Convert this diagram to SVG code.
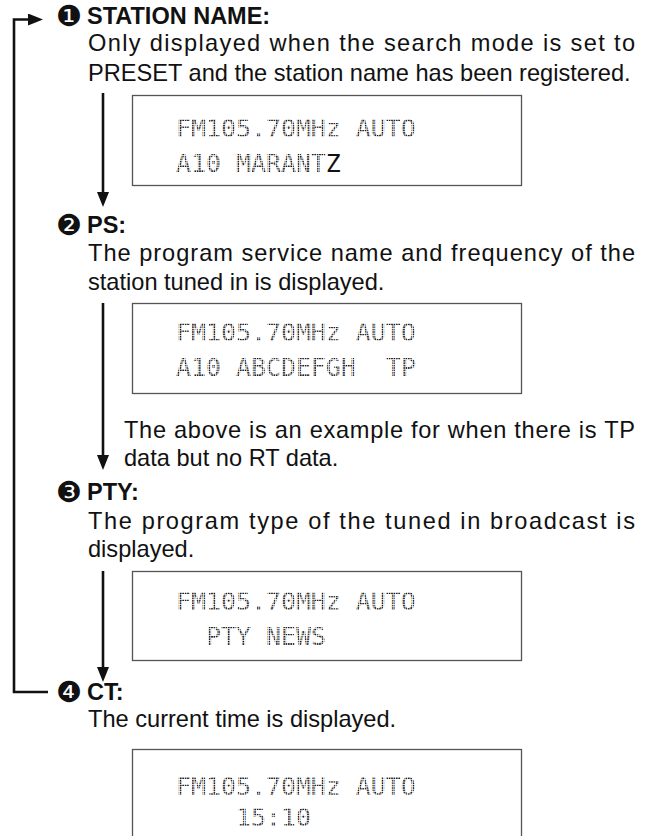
<svg xmlns="http://www.w3.org/2000/svg" width="658" height="836" viewBox="0 0 658 836">
<defs>
<style>
.h{font-family:"Liberation Sans",Arial,sans-serif;font-weight:bold;font-size:23.5px;fill:#111}
.num{font-family:"DejaVu Sans",sans-serif;font-size:29px;fill:#111}
.b{font-family:"Liberation Sans",Arial,sans-serif;font-size:23.6px;fill:#111}
.lcd{fill:#fff;stroke:#555;stroke-width:1.3}
.l{font-family:"DejaVu Sans Mono",monospace;font-size:24.9px;fill:url(#dots)}
.cur{fill:#111}
.c{fill:none;stroke:#111;stroke-width:2.6}
</style>
<pattern id="dots" width="2.4" height="2.4" patternUnits="userSpaceOnUse">
<rect width="1.7" height="1.7" fill="#222"/>
</pattern>
<marker id="ah" markerUnits="userSpaceOnUse" markerWidth="16" markerHeight="12" viewBox="0 0 16 12" refX="7" refY="6" orient="auto">
<path d="M0,0 L15,6 L0,12 Z" fill="#111"/>
</marker>
</defs>
<rect width="658" height="836" fill="#fff"/>

<g id="connectors">
<path class="c" d="M48,692 H14 V19.5 H35" marker-end="url(#ah)"/>
<path class="c" d="M103,93 V199" marker-end="url(#ah)"/>
<path class="c" d="M103,303 V462" marker-end="url(#ah)"/>
<path class="c" d="M103,571 V674" marker-end="url(#ah)"/>
</g>

<g id="node-station-name">
<text class="num" x="56" y="26">❶</text>
<text class="h" x="87" y="24">STATION NAME:</text>
<text class="b" x="88" y="51" textLength="547" lengthAdjust="spacing">Only displayed when the search mode is set to</text>
<text class="b" x="88" y="81">PRESET and the station name has been registered.</text>
<rect class="lcd" x="132.5" y="95.5" width="389" height="90"/>
<text class="l" x="176" y="137">FM105.70MHz AUTO</text>
<text class="l" x="176" y="172">A10 MARANT<tspan class="cur">Z</tspan></text>
</g>

<g id="node-ps">
<text class="num" x="56" y="235">❷</text>
<text class="h" x="87" y="233">PS:</text>
<text class="b" x="88" y="261" textLength="547" lengthAdjust="spacing">The program service name and frequency of the</text>
<text class="b" x="88" y="290">station tuned in is displayed.</text>
<rect class="lcd" x="132.5" y="303.5" width="389" height="90"/>
<text class="l" x="176" y="341">FM105.70MHz AUTO</text>
<text class="l" x="176" y="376">A10 ABCDEFGH<tspan x="386">TP</tspan></text>
<text class="b" x="124" y="438" textLength="511" lengthAdjust="spacing">The above is an example for when there is TP</text>
<text class="b" x="124" y="466">data but no RT data.</text>
</g>

<g id="node-pty">
<text class="num" x="56" y="502">❸</text>
<text class="h" x="87" y="500">PTY:</text>
<text class="b" x="88" y="529" textLength="547" lengthAdjust="spacing">The program type of the tuned in broadcast is</text>
<text class="b" x="88" y="557">displayed.</text>
<rect class="lcd" x="132.5" y="571.5" width="389" height="89"/>
<text class="l" x="176" y="610">FM105.70MHz AUTO</text>
<text class="l" x="206" y="645">PTY NEWS</text>
</g>

<g id="node-ct">
<text class="num" x="56" y="702">❹</text>
<text class="h" x="87" y="700">CT:</text>
<text class="b" x="88" y="727">The current time is displayed.</text>
<rect class="lcd" x="132.5" y="749.5" width="389" height="100"/>
<text class="l" x="176" y="795">FM105.70MHz AUTO</text>
<text class="l" x="236" y="826">15:10</text>
</g>
</svg>
